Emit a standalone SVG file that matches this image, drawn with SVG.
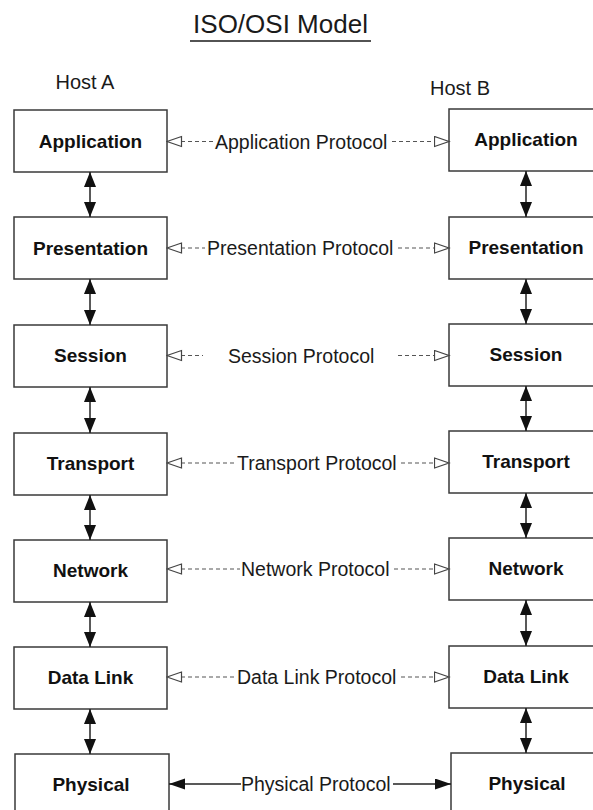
<svg xmlns="http://www.w3.org/2000/svg" width="593" height="810" viewBox="0 0 593 810">
<defs>
<style>
.box{fill:#fff;stroke:#3a3a3a;stroke-width:1.5}
.lbl{font-family:"Liberation Sans",Arial,sans-serif;font-weight:bold;font-size:19px;fill:#111;text-anchor:middle}
.ptxt{font-family:"Liberation Sans",Arial,sans-serif;font-size:19.5px;fill:#1a1a1a}
.host{font-family:"Liberation Sans",Arial,sans-serif;font-size:20px;fill:#1a1a1a;text-anchor:middle}
.title{font-family:"Liberation Sans",Arial,sans-serif;font-size:26px;fill:#1a1a1a;text-anchor:middle}
.vert{stroke:#222;stroke-width:1.5;fill:none;marker-start:url(#fa);marker-end:url(#fa)}
.dl{stroke:#555;stroke-width:1.2;stroke-dasharray:4 3;fill:none}
.dl-l{marker-start:url(#oa)}
.dl-r{marker-end:url(#oa)}
.sl{stroke:#222;stroke-width:1.5;fill:none}
</style>
<marker id="fa" markerUnits="userSpaceOnUse" markerWidth="16" markerHeight="14" refX="15" refY="6" orient="auto-start-reverse" viewBox="0 0 16 14">
<path d="M0,0 L15,6 L0,12 z" fill="#111"/>
</marker>
<marker id="oa" markerUnits="userSpaceOnUse" markerWidth="17" markerHeight="13" refX="15.5" refY="6" orient="auto-start-reverse" viewBox="0 0 17 13">
<path d="M1,1 L15.5,6 L1,11 z" fill="#fff" stroke="#444" stroke-width="1.2"/>
</marker>
<marker id="ff" markerUnits="userSpaceOnUse" markerWidth="18" markerHeight="12" refX="16" refY="5.5" orient="auto-start-reverse" viewBox="0 0 18 12">
<path d="M0,0 L16,5.5 L0,11 z" fill="#111"/>
</marker>
</defs>
<rect width="593" height="810" fill="#fff"/>

<g id="title">
<text class="title" x="280.5" y="33">ISO/OSI Model</text>
<line x1="190" y1="41" x2="371" y2="41" stroke="#1a1a1a" stroke-width="1.6"/>
</g>
<g id="hostA"><text class="host" x="85" y="89">Host A</text></g>
<g id="hostB"><text class="host" x="460" y="95">Host B</text></g>

<g id="a-application"><rect class="box" x="14" y="110" width="153" height="62"/><text class="lbl" x="90.5" y="148">Application</text></g>
<g id="a-presentation"><rect class="box" x="14" y="217" width="153" height="62"/><text class="lbl" x="90.5" y="255">Presentation</text></g>
<g id="a-session"><rect class="box" x="14" y="325" width="153" height="62"/><text class="lbl" x="90.5" y="362">Session</text></g>
<g id="a-transport"><rect class="box" x="14" y="433" width="153" height="62"/><text class="lbl" x="90.5" y="470">Transport</text></g>
<g id="a-network"><rect class="box" x="14" y="540" width="153" height="62"/><text class="lbl" x="90.5" y="577">Network</text></g>
<g id="a-datalink"><rect class="box" x="14" y="647" width="153" height="62"/><text class="lbl" x="90.5" y="684">Data Link</text></g>
<g id="a-physical"><rect class="box" x="15" y="754" width="154" height="62"/><text class="lbl" x="91" y="791">Physical</text></g>

<g id="b-application"><rect class="box" x="449" y="109" width="155" height="62"/><text class="lbl" x="526" y="146">Application</text></g>
<g id="b-presentation"><rect class="box" x="449" y="217" width="155" height="62"/><text class="lbl" x="526" y="254">Presentation</text></g>
<g id="b-session"><rect class="box" x="449" y="324" width="155" height="62"/><text class="lbl" x="526" y="361">Session</text></g>
<g id="b-transport"><rect class="box" x="449" y="431" width="155" height="62"/><text class="lbl" x="526" y="468">Transport</text></g>
<g id="b-network"><rect class="box" x="449" y="538" width="155" height="62"/><text class="lbl" x="526" y="575">Network</text></g>
<g id="b-datalink"><rect class="box" x="449" y="646" width="155" height="62"/><text class="lbl" x="526" y="683">Data Link</text></g>
<g id="b-physical"><rect class="box" x="451" y="753" width="155" height="62"/><text class="lbl" x="527" y="790">Physical</text></g>

<g id="connectors">
<line class="vert" x1="90" y1="172" x2="90" y2="217"/>
<line class="vert" x1="90" y1="279" x2="90" y2="325"/>
<line class="vert" x1="90" y1="387" x2="90" y2="433"/>
<line class="vert" x1="90" y1="495" x2="90" y2="540"/>
<line class="vert" x1="90" y1="602" x2="90" y2="647"/>
<line class="vert" x1="90" y1="709" x2="90" y2="754"/>
<line class="vert" x1="526" y1="171" x2="526" y2="217"/>
<line class="vert" x1="526" y1="279" x2="526" y2="324"/>
<line class="vert" x1="526" y1="386" x2="526" y2="431"/>
<line class="vert" x1="526" y1="493" x2="526" y2="538"/>
<line class="vert" x1="526" y1="600" x2="526" y2="646"/>
<line class="vert" x1="526" y1="708" x2="526" y2="753"/>

<line class="dl dl-l" x1="167" y1="141.5" x2="213" y2="141.5"/>
<line class="dl dl-r" x1="392" y1="141.5" x2="449" y2="141.5"/>
<text class="ptxt" x="215" y="148.5">Application Protocol</text>

<line class="dl dl-l" x1="167" y1="248" x2="205" y2="248"/>
<line class="dl dl-r" x1="398" y1="248" x2="449" y2="248"/>
<text class="ptxt" x="207" y="255">Presentation Protocol</text>

<line class="dl dl-l" x1="167" y1="355.5" x2="203" y2="355.5"/>
<line class="dl dl-r" x1="398" y1="355.5" x2="449" y2="355.5"/>
<text class="ptxt" x="228" y="362.5">Session Protocol</text>

<line class="dl dl-l" x1="167" y1="463" x2="235" y2="463"/>
<line class="dl dl-r" x1="401" y1="463" x2="449" y2="463"/>
<text class="ptxt" x="237" y="470">Transport Protocol</text>

<line class="dl dl-l" x1="167" y1="569" x2="240" y2="569"/>
<line class="dl dl-r" x1="394" y1="569" x2="449" y2="569"/>
<text class="ptxt" x="241" y="576">Network Protocol</text>

<line class="dl dl-l" x1="167" y1="677" x2="236" y2="677"/>
<line class="dl dl-r" x1="401" y1="677" x2="449" y2="677"/>
<text class="ptxt" x="237" y="684">Data Link Protocol</text>

<line class="sl" x1="169" y1="784" x2="241" y2="784" marker-start="url(#ff)"/>
<line class="sl" x1="393" y1="784" x2="451" y2="784" marker-end="url(#ff)"/>
<text class="ptxt" x="241" y="791">Physical Protocol</text>
</g>
</svg>
